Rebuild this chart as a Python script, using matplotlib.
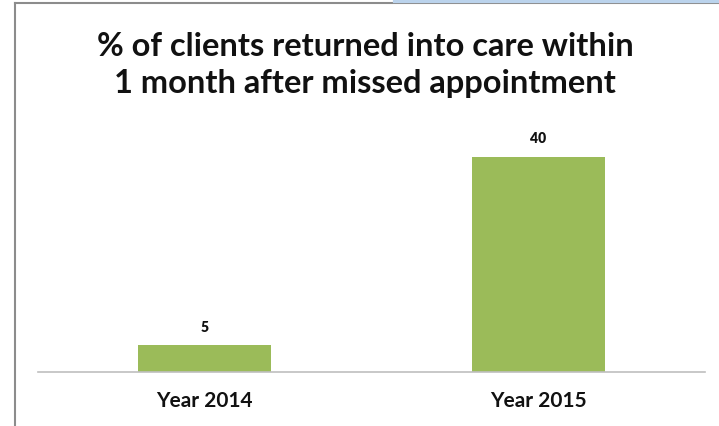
import matplotlib
matplotlib.use("Agg")
import matplotlib.pyplot as plt
from matplotlib.lines import Line2D

categories = ["Year 2014", "Year 2015"]
values = [5, 40]
title = "% of clients returned into care within\n1 month after missed appointment"

plt.rcParams['font.family'] = ['Lato', 'DejaVu Sans']

fig = plt.figure(figsize=(7.19, 4.27), dpi=100)
W, H = 719, 427
ax = fig.add_axes([38 / W, 1 - 373 / H, (705 - 38) / W, (373 - 131) / H])

x = range(len(categories))
bars = ax.bar(x, values, width=0.4, color="#9BBB59")
ax.set_xlim(-0.5, len(categories) - 0.5)
ax.set_ylim(0, 45)

for b, v in zip(bars, values):
    ax.annotate(str(v), (b.get_x() + b.get_width() / 2, v), xytext=(0, 9),
                textcoords="offset points", ha="center", va="bottom",
                fontsize=10, fontweight="heavy", color="#111111")

ax.set_xticks(list(x))
ax.set_xticklabels(categories, fontsize=15, fontweight="bold", color="#111111")
ax.tick_params(axis="x", length=0, pad=13)
ax.set_yticks([])
for s in ["top", "right", "left"]:
    ax.spines[s].set_visible(False)
ax.spines["bottom"].set_color("#BFBFBF")
ax.spines["bottom"].set_linewidth(1.2)

fig.text(365 / W, 1 - 65 / H, title, ha="center", va="center",
         fontsize=23.5, fontweight="bold", color="#111111", linespacing=1.32)

# slide frame lines
fig.add_artist(Line2D([15 / W, 15 / W], [0, 1 - 4 / H], color="#8C8C8C", lw=1.5))
fig.add_artist(Line2D([15 / W, 1], [1 - 4 / H, 1 - 4 / H], color="#8C8C8C", lw=1.5))
fig.add_artist(Line2D([0.55, 1], [1 - 1.5 / H, 1 - 1.5 / H], color="#BBD3EC", lw=3))

fig.savefig("out.png", dpi=100, facecolor="white")
